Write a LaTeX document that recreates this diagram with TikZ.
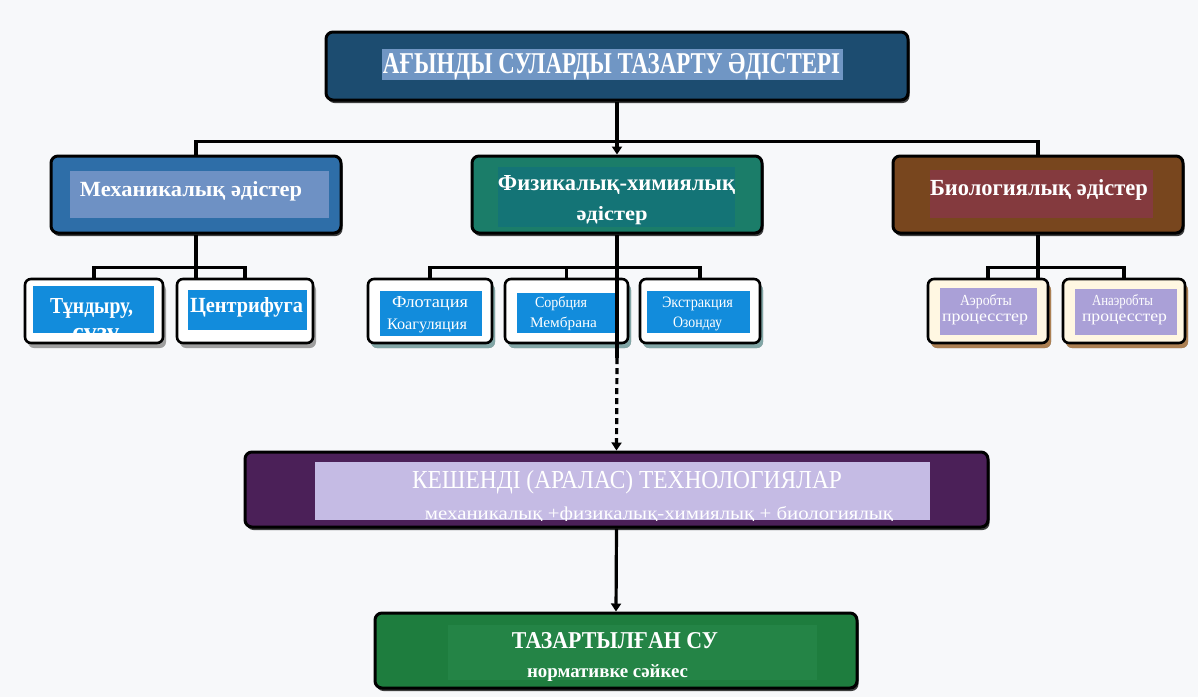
\documentclass[tikz,border=0pt]{standalone}
\usepackage{fontspec}
\setmainfont{Liberation Serif}
\usetikzlibrary{shadows,arrows.meta}
\definecolor{bgc}{RGB}{247,248,250}
\definecolor{topblue}{RGB}{28,76,112}
\definecolor{tophl}{RGB}{112,150,196}
\definecolor{mechout}{RGB}{46,110,168}
\definecolor{mechin}{RGB}{110,145,196}
\definecolor{physout}{RGB}{27,125,105}
\definecolor{physin}{RGB}{20,116,118}
\definecolor{bioout}{RGB}{120,70,30}
\definecolor{bioin}{RGB}{132,58,62}
\definecolor{subblue}{RGB}{18,140,220}
\definecolor{lav}{RGB}{170,160,215}
\definecolor{cream}{RGB}{255,247,226}
\definecolor{cxout}{RGB}{75,32,88}
\definecolor{cxin}{RGB}{197,187,228}
\definecolor{resout}{RGB}{30,125,62}
\definecolor{resin}{RGB}{36,132,70}
\newcommand{\fitw}[2]{\resizebox{#1}{!}{#2}}
\newcommand{\fitwh}[3]{\resizebox{#1}{#2}{#3}}
\begin{document}
\begin{tikzpicture}[x=1pt,y=-1pt,
  mainbox/.style={draw=black, line width=3pt, rounded corners=7pt, inner sep=0pt,
    drop shadow={shadow xshift=1.5pt, shadow yshift=-3pt, fill=black, opacity=0.75}},
  subbox/.style={fill=white, draw=black, line width=2.6pt, rounded corners=6pt, inner sep=0pt,
    minimum height=64, drop shadow={shadow xshift=3pt, shadow yshift=-5pt, fill=gray!75, opacity=1}},
  innerbox/.style={inner sep=0pt, draw=none},
  lbl/.style={text=white, inner sep=0pt, anchor=base},
  conn/.style={draw=black, line width=3.2pt},
  tip/.style={-{Triangle[width=10pt,length=8pt]}}
]
\useasboundingbox[fill=bgc] (0,0) rectangle (1198,697);

% top box
\node[mainbox, fill=topblue, minimum width=582, minimum height=68] (top) at (617,66) {};
\node[innerbox, fill=tophl, minimum width=461, minimum height=31] (tophl) at (612.5,64.5) {};
\node[lbl] (toptxt) at (611.5,73) {\fitwh{457pt}{20pt}{\bfseries АҒЫНДЫ СУЛАРДЫ ТАЗАРТУ ӘДІСТЕРІ}};

% second level
\node[mainbox, fill=mechout, minimum width=290, minimum height=77] (mech) at (196,194.5) {};
\node[innerbox, fill=mechin, minimum width=259, minimum height=47] (mechin) at (199.5,194.5) {};
\node[lbl] (mechtxt) at (191,196) {\fitwh{222pt}{15pt}{\bfseries Механикалық әдістер}};

\node[mainbox, fill=physout, minimum width=290, minimum height=77] (phys) at (617,194.5) {};
\node[innerbox, fill=physin, minimum width=237, minimum height=60] (physin) at (616.5,197) {};
\node[lbl] (phystxta) at (616.5,190) {\fitwh{237pt}{15pt}{\bfseries Физикалық-химиялық}};
\node[lbl] (phystxtb) at (612,220) {\fitwh{71pt}{14pt}{\bfseries әдістер}};

\node[mainbox, fill=bioout, minimum width=290, minimum height=77] (bio) at (1038,194.5) {};
\node[innerbox, fill=bioin, minimum width=223, minimum height=48] (bioin) at (1041.5,194) {};
\node[lbl] (biotxt) at (1039,195) {\fitwh{218pt}{16pt}{\bfseries Биологиялық әдістер}};

% third level: mechanical
\node[subbox, minimum width=138] (m1) at (94,311) {};
\node[innerbox, fill=subblue, minimum width=121, minimum height=47] (m1in) at (93.5,309.5) {};
\node[lbl] (m1a) at (91.5,313) {\fitwh{83pt}{15pt}{\bfseries Тұндыру,}};
\begin{scope}
\clip (m1in.north west) rectangle (m1in.south east);
\node[lbl] (m1b) at (96,340) {\fitw{47pt}{\bfseries сүзу}};
\end{scope}

\node[subbox, minimum width=136] (m2) at (245,311) {};
\node[innerbox, fill=subblue, minimum width=119, minimum height=40] (m2in) at (247.5,310) {};
\node[lbl] (m2a) at (246.5,312) {\fitwh{113pt}{15pt}{\bfseries Центрифуга}};

% third level: physico-chemical
\begin{scope}[subbox/.append style={drop shadow={shadow xshift=3pt, shadow yshift=-5pt, fill=gray!60!teal!70, opacity=1}}]
\node[subbox, minimum width=124] (p1) at (430,311) {};
\node[subbox, minimum width=123] (p2) at (566.5,311) {};
\node[subbox, minimum width=120] (p3) at (700,311) {};
\end{scope}
\node[innerbox, fill=subblue, minimum width=102, minimum height=45] (p1in) at (431,313.5) {};
\node[lbl] (p1a) at (430,307) {\fitwh{76pt}{11pt}{Флотация}};
\node[lbl] (p1b) at (427,329) {\fitwh{80pt}{10.5pt}{Коагуляция}};
\node[innerbox, fill=subblue, minimum width=98, minimum height=40] (p2in) at (566,313) {};
\node[lbl] (p2a) at (561,307) {\fitwh{52pt}{11pt}{Сорбция}};
\node[lbl] (p2b) at (563.5,327) {\fitwh{67pt}{10.5pt}{Мембрана}};
\node[innerbox, fill=subblue, minimum width=103, minimum height=42] (p3in) at (698.5,312) {};
\node[lbl] (p3a) at (697.5,307) {\fitwh{71pt}{10.5pt}{Экстракция}};
\node[lbl] (p3b) at (697.5,327) {\fitwh{49pt}{10.5pt}{Озондау}};

% third level: biological
\begin{scope}[subbox/.append style={fill=cream, drop shadow={shadow xshift=3pt, shadow yshift=-5pt, fill=brown!70!gray, opacity=1}}]
\node[subbox, minimum width=120] (b1) at (988,311) {};
\node[subbox, minimum width=122] (b2) at (1124,311) {};
\end{scope}
\node[innerbox, fill=lav, minimum width=97, minimum height=47] (b1in) at (988.5,311.5) {};
\node[lbl] (b1a) at (986,305) {\fitwh{52pt}{11pt}{Аэробты}};
\node[lbl] (b1b) at (985,321) {\fitwh{86pt}{7.5pt}{процесстер}};
\node[innerbox, fill=lav, minimum width=102, minimum height=46] (b2in) at (1126,312) {};
\node[lbl] (b2a) at (1122.5,305) {\fitwh{61pt}{11pt}{Анаэробты}};
\node[lbl] (b2b) at (1124.5,321) {\fitwh{85pt}{7.5pt}{процесстер}};

% complex technologies
\node[mainbox, fill=cxout, minimum width=743, minimum height=75] (cx) at (616.5,489.5) {};
\node[innerbox, fill=cxin, minimum width=615, minimum height=58] (cxin) at (622.5,491) {};
\node[lbl] (cxa) at (627,488) {\fitwh{430pt}{18pt}{КЕШЕНДІ (АРАЛАС) ТЕХНОЛОГИЯЛАР}};
\begin{scope}
\clip (cxin.north west) rectangle (cxin.south east);
\node[lbl] (cxb) at (659,519) {\fitwh{468pt}{13pt}{механикалық +физикалық-химиялық + биологиялық}};
\end{scope}

% result
\node[mainbox, fill=resout, minimum width=482, minimum height=75] (res) at (616,650.5) {};
\node[innerbox, fill=resin, minimum width=369, minimum height=55] (resin) at (632.5,652.5) {};
\node[lbl] (resa) at (615,648) {\fitwh{206pt}{16pt}{\bfseries ТАЗАРТЫЛҒАН СУ}};
\node[lbl] (resb) at (607.5,677) {\fitwh{161pt}{13pt}{\bfseries нормативке сәйкес}};

% connectors
\draw[conn, tip] (top.south) -- (phys.north);
\draw[conn] (mech.north) -- ++(0,-13) -| (bio.north);
\draw[conn] (mech.south) -- ++(0,45);
\draw[conn] (m1.north) -- ++(0,-10) -| (m2.north);
\draw[conn] (p1.north) -- ++(0,-10) -| (p3.north);
\draw[conn] (p2.north) -- ++(0,-10);
\coordinate (pdash) at (617,358);
\draw[conn] (phys.south) -- (pdash);
\draw[conn, tip, dash pattern=on 6pt off 4pt] (pdash) -- (cx.north);
\draw[conn] (bio.south) -- ++(0,45);
\draw[conn] (b1.north) -- ++(0,-10) -| (b2.north);
\draw[conn, tip] (cx.south) -- (res.north);
\end{tikzpicture}
\end{document}
